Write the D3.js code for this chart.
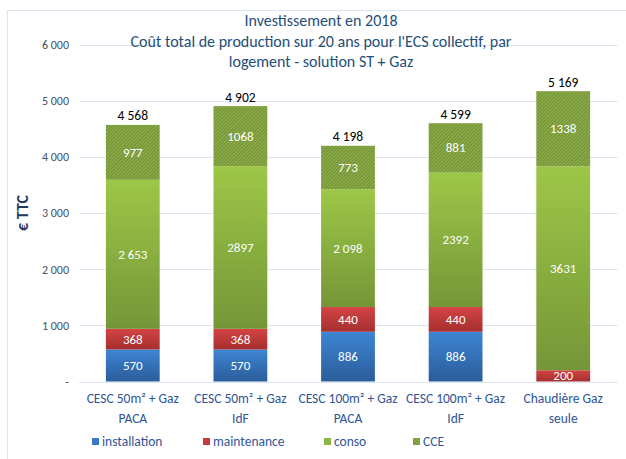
<!DOCTYPE html>
<html><head><meta charset="utf-8">
<script src="https://cdn.jsdelivr.net/npm/d3@7"></script>
<style>body{margin:0;background:#fff;}svg{display:block;font-family:Calibri,Carlito,Lato,"Open Sans",sans-serif;}</style>
</head><body><svg id="c" width="626" height="459"></svg>
<script>
const categories = [["CESC 50m² + Gaz","PACA"],["CESC 50m² + Gaz","IdF"],["CESC 100m² + Gaz","PACA"],["CESC 100m² + Gaz","IdF"],["Chaudière Gaz","seule"]];
const installation = [570,570,886,886,0];
const maintenance = [368,368,440,440,200];
const conso = [2653,2897,2098,2392,3631];
const cce = [977,1068,773,881,1338];
const labInstallation = ["570","570","886","886",""];
const labMaintenance = ["368","368","440","440","200"];
const labConso = ["2 653","2897","2 098","2392","3631"];
const labCce = ["977","1068","773","881","1338"];
const totals = ["4 568","4 902","4 198","4 599","5 169"];
const yTicks = [0,1000,2000,3000,4000,5000,6000];
const seriesNames = ["installation","maintenance","conso","CCE"];
const titleLines = ["Investissement en 2018","Coût total de production sur 20 ans pour l'ECS collectif, par","logement - solution ST + Gaz"];

const svg = d3.select("#c");
const defs = svg.append("defs");
function grad(id, c1, c2){
  const g = defs.append("linearGradient").attr("id",id).attr("x1",0).attr("y1",0).attr("x2",0).attr("y2",1);
  g.append("stop").attr("offset","0%").attr("stop-color",c1);
  g.append("stop").attr("offset","100%").attr("stop-color",c2);
}
grad("gBlue","#3d85d3","#2b5d9b");
grad("gRed","#d44444","#a52f2f");
grad("gGreen","#9dc747","#759638");
const pat = defs.append("pattern").attr("id","hatch").attr("patternUnits","userSpaceOnUse").attr("width",2.5).attr("height",2.5).attr("patternTransform","rotate(45)");
pat.append("rect").attr("width",2.5).attr("height",2.5).attr("fill","#8fb04a");
pat.append("rect").attr("width",1.1).attr("height",2.5).attr("fill","#6f8c35");

// frame
svg.append("rect").attr("x",7.5).attr("y",10.5).attr("width",640).attr("height",470).attr("fill","#fff").attr("stroke","#d9e4f2");

const x = d3.scaleBand().domain(d3.range(categories.length)).range([79,617]).paddingInner(0.5).paddingOuter(0.25);
const y = d3.scaleLinear().domain([0,6000]).range([381.5,44.5]);

// grid
svg.append("g").selectAll("line").data(yTicks).join("line")
  .attr("x1",79).attr("x2",618).attr("y1",d=>Math.round(y(d))+0.5).attr("y2",d=>Math.round(y(d))+0.5)
  .attr("stroke","#dce6f2").attr("stroke-width",1);

// y axis
const fmt = d => d===0 ? "-" : d3.format(",")(d).replace(/,/g," ");
const yAxis = svg.append("g").attr("transform","translate(72,0)")
  .call(d3.axisLeft(y).tickValues(yTicks).tickSize(0).tickFormat(fmt));
yAxis.select(".domain").remove();
yAxis.selectAll("text").attr("fill","#44546a").attr("font-size",12).attr("font-family",'Calibri,Carlito,Lato,"Open Sans",sans-serif');

svg.append("text").attr("transform","translate(28,213) rotate(-90)").attr("text-anchor","middle")
  .attr("fill","#1f3864").attr("font-weight","bold").attr("font-size",16).text("€ TTC");

// title
svg.append("g").selectAll("text").data(titleLines).join("text")
  .attr("x",321).attr("y",(d,i)=>26+i*20.5).attr("text-anchor","middle")
  .attr("fill","#1f4e79").attr("font-size",16).text(d=>d);

// stacks
const data = categories.map((c,i)=>({i, installation:installation[i], maintenance:maintenance[i], conso:conso[i], CCE:cce[i]}));
const stack = d3.stack().keys(seriesNames)(data);
const fills = ["url(#gBlue)","url(#gRed)","url(#gGreen)","url(#hatch)"];
const labs = [labInstallation,labMaintenance,labConso,labCce];
stack.forEach((s,k)=>{
  const g = svg.append("g");
  g.selectAll("rect").data(s).join("rect")
    .attr("x",(d,i)=>x(i)).attr("width",x.bandwidth())
    .attr("y",d=>y(d[1])).attr("height",d=>Math.max(0,y(d[0])-y(d[1])))
    .attr("fill",fills[k]);
  g.selectAll("text").data(s).join("text")
    .attr("x",(d,i)=>x(i)+x.bandwidth()/2)
    .attr("y",d=>(y(d[0])+y(d[1]))/2+4.5)
    .attr("text-anchor","middle").attr("fill","#fff").attr("font-size",13)
    .text((d,i)=>labs[k][i]);
});

// totals
svg.append("g").selectAll("text").data(totals).join("text")
  .attr("x",(d,i)=>x(i)+x.bandwidth()/2)
  .attr("y",(d,i)=>y(stack[3][i][1])-4.5)
  .attr("text-anchor","middle").attr("fill","#000").attr("font-size",13.5).text(d=>d);

// category labels
const cg = svg.append("g").selectAll("text").data(categories).join("text")
  .attr("x",(d,i)=>x(i)+x.bandwidth()/2).attr("y",403)
  .attr("text-anchor","middle").attr("fill","#2f5597").attr("font-size",13.5);
cg.append("tspan").text(d=>d[0]);
cg.append("tspan").attr("x",(d,i)=>x(i)+x.bandwidth()/2).attr("dy",20).text(d=>d[1]);

// legend
const legX = [92,203,324,413];
const legFill = ["#3a78c2","#c83a3a","#8cb543","url(#hatch)"];
const lg = svg.append("g").selectAll("g").data(seriesNames).join("g")
  .attr("transform",(d,i)=>`translate(${legX[i]},437)`);
lg.append("rect").attr("width",7).attr("height",7).attr("y",1).attr("fill",(d,i)=>legFill[i]);
lg.append("text").attr("x",10).attr("y",8.5).attr("fill","#2f5597").attr("font-size",13.5).text(d=>d);
</script></body></html>
